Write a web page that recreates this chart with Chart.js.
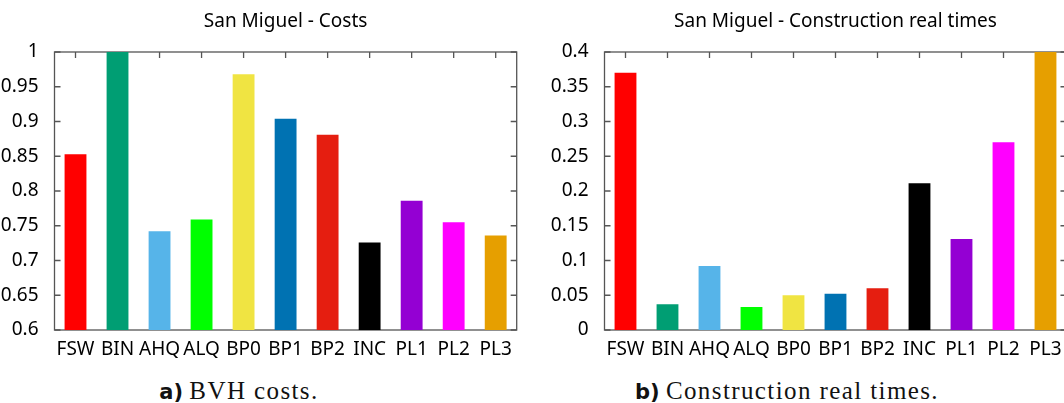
<!DOCTYPE html>
<html>
<head>
<meta charset="utf-8">
<script src="https://cdn.jsdelivr.net/npm/chart.js@4"></script>
<style>
  body { margin: 0; width: 1064px; height: 403px; overflow: hidden; background: #fff; position: relative; }
  canvas { position: absolute; top: 0; }
  .caption { position: absolute; top: 379px; text-align: center; font-family: 'Liberation Serif', serif; font-size: 25px; line-height: 24px; color: #111; white-space: nowrap; }
  .caption b { font-family: 'DejaVu Sans', sans-serif; font-size: 21px; font-weight: bold; }
  .caption span { letter-spacing: 1.4px; }
</style>
</head>
<body>
<canvas id="costes" width="532" height="370" style="left:0px"></canvas>
<canvas id="tiempos" width="560" height="370" style="left:532px"></canvas>
<div class="caption" style="left:0px; width:478px"><b>a)</b> <span>BVH costs.</span></div>
<div class="caption" style="left:532px; width:510px"><b>b)</b> <span>Construction real times.</span></div>

<script>
// ---------------- DATOS ----------------
const categorias = ['FSW', 'BIN', 'AHQ', 'ALQ', 'BP0', 'BP1', 'BP2', 'INC', 'PL1', 'PL2', 'PL3'];
const colores = ['#ff0000', '#009e73', '#56b4e9', '#00ff00', '#f0e442', '#0072b2', '#e51e10', '#000000', '#9400d3', '#ff00ff', '#e69f00'];
const costes = [0.853, 1.0, 0.742, 0.759, 0.968, 0.904, 0.881, 0.726, 0.786, 0.755, 0.736];
const tiempos = [0.370, 0.037, 0.092, 0.033, 0.050, 0.052, 0.060, 0.211, 0.131, 0.270, 0.4];
const ticksCostes = ['0.6', '0.65', '0.7', '0.75', '0.8', '0.85', '0.9', '0.95', '1'];
const ticksTiempos = ['0', '0.05', '0.1', '0.15', '0.2', '0.25', '0.3', '0.35', '0.4'];

const fuente = "'Noto Sans', 'DejaVu Sans', sans-serif";
Chart.defaults.font.family = fuente;
Chart.defaults.color = '#000';

// marco gris con ticks hacia dentro (estilo gnuplot), debajo de las barras
const marcoPlugin = {
    id: 'marco',
    beforeDatasetsDraw(chart) {
        const ctx = chart.ctx;
        const a = chart.chartArea;
        const x = chart.scales.x;
        const y = chart.scales.y;
        ctx.save();
        ctx.strokeStyle = '#555';
        ctx.lineWidth = 1.3;
        ctx.strokeRect(a.left, a.top, a.right - a.left, a.bottom - a.top);
        ctx.beginPath();
        y.ticks.forEach(t => {
            let py = y.getPixelForValue(t.value);
            ctx.moveTo(a.left, py); ctx.lineTo(a.left + 6, py);
            ctx.moveTo(a.right, py); ctx.lineTo(a.right - 6, py);
        });
        for (let i = 0; i < categorias.length; i++) {
            let px = x.getPixelForValue(i);
            ctx.moveTo(px, a.top); ctx.lineTo(px, a.top + 6);
            ctx.moveTo(px, a.bottom); ctx.lineTo(px, a.bottom - 6);
        }
        ctx.stroke();
        ctx.restore();
    }
};

function crearGrafico(id, titulo, valores, min, max, etiquetas, anchoY, margenDer) {
    return new Chart(document.getElementById(id), {
        type: 'bar',
        data: {
            labels: categorias,
            datasets: [{
                data: valores,
                backgroundColor: colores,
                borderWidth: 0,
                barPercentage: 0.52,
                categoryPercentage: 1
            }]
        },
        options: {
            responsive: false,
            animation: false,
            devicePixelRatio: 1,
            layout: { padding: { top: 0, left: 0, right: margenDer, bottom: 0 } },
            plugins: {
                legend: { display: false },
                tooltip: { enabled: false },
                title: {
                    display: true,
                    text: titulo,
                    fullSize: false,
                    color: '#000',
                    font: { size: 19, weight: 'normal', lineHeight: 1.2 },
                    padding: { top: 10, bottom: 19.2 }
                }
            },
            scales: {
                x: {
                    grid: { display: false },
                    border: { display: false },
                    ticks: { font: { size: 19 }, padding: 0, maxRotation: 0, autoSkip: false },
                    afterFit(s) { s.height = 40; }
                },
                y: {
                    min: min,
                    max: max,
                    grid: { display: false },
                    border: { display: false },
                    ticks: {
                        stepSize: 0.05,
                        font: { size: 19 },
                        padding: 8,
                        callback: (v, i) => etiquetas[i]
                    },
                    afterFit(s) { s.width = anchoY; }
                }
            }
        },
        plugins: [marcoPlugin]
    });
}

crearGrafico('costes', 'San Miguel - Costs', costes, 0.6, 1, ticksCostes, 54.5, 15.3);
crearGrafico('tiempos', 'San Miguel - Construction real times', tiempos, 0, 0.4, ticksTiempos, 72.5, 25.5);
</script>
</body>
</html>
